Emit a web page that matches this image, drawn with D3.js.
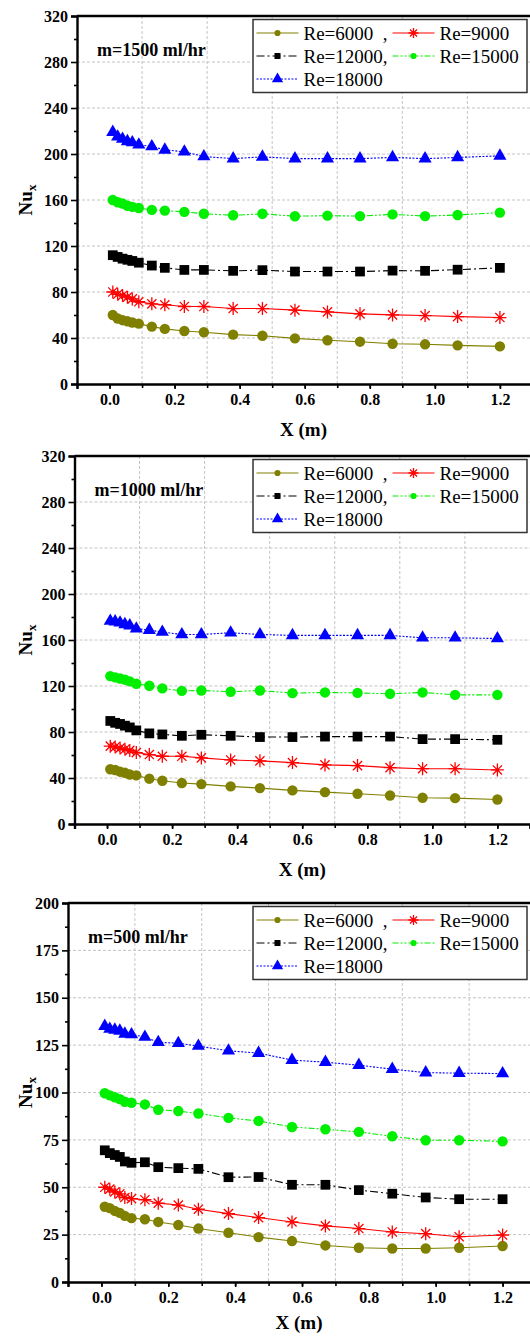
<!DOCTYPE html>
<html>
<head>
<meta charset="utf-8">
<script src="https://cdn.jsdelivr.net/npm/d3@7"></script>
<style>
  body { margin: 0; background: #fff; }
  svg { display: block; }
  svg text { font-family: "Liberation Serif", "Times New Roman", serif !important; }
</style>
</head>
<body>
<svg id="chart" width="530" height="1336"></svg>
<script>
// x positions along the tube (m)
const xPos = [0.01, 0.025, 0.04, 0.055, 0.07, 0.09, 0.13, 0.17, 0.23, 0.29, 0.38, 0.47, 0.57, 0.67, 0.77, 0.87, 0.97, 1.07, 1.2];

const reLabels = ["Re=6000  ,", "Re=9000", "Re=12000,", "Re=15000", "Re=18000"];

// m = 1500 ml/hr
const nu1500_re6000  = [60, 57, 55.5, 54.5, 53.5, 52.5, 49.9, 47.9, 46.1, 45, 42.9, 42, 39.7, 38, 36.8, 35, 34.5, 33.6, 32.7];
const nu1500_re9000  = [80, 78, 77, 75.5, 74, 71.5, 69.7, 68.9, 67.4, 67.4, 65.6, 65.6, 64.2, 62.7, 61, 60.1, 59.5, 58.6, 57.8];
const nu1500_re12000 = [112, 110.5, 109, 108, 107, 105.5, 103, 101, 99.2, 99.2, 98.4, 99, 97.8, 97.8, 97.8, 98.6, 98.4, 99.4, 101];
const nu1500_re15000 = [160, 158, 157, 155, 154, 153, 151.4, 150.8, 149.7, 148, 146.7, 148, 145.9, 146.4, 146, 147.5, 146, 147, 149];
const nu1500_re18000 = [219, 215, 213, 211, 210, 208, 206.5, 203.6, 201.9, 197.8, 196, 197.5, 196, 196, 196, 197, 196, 197, 198.4];

// m = 1000 ml/hr
const nu1000_re6000  = [47.6, 47, 45.5, 44.5, 43, 42.3, 39.4, 37.6, 35.6, 34.7, 32.7, 31.2, 29.2, 27.7, 26.3, 24.8, 22.8, 22.5, 21.3];
const nu1000_re9000  = [67.7, 67, 66, 65, 64, 62.1, 60.4, 58.9, 58.9, 57.5, 55.7, 54.9, 53.4, 51.4, 50.8, 49, 48.1, 48.1, 47];
const nu1000_re12000 = [89.6, 88, 87, 85.5, 84, 81.4, 78.8, 77.9, 76.7, 77.6, 76.7, 75.6, 75.6, 76, 76, 76, 73.8, 73.8, 73.2];
const nu1000_re15000 = [128.6, 127.5, 126.5, 125.5, 124, 122, 120.2, 117.9, 115.8, 116.1, 115, 116.1, 113.8, 114.4, 114, 113.2, 114.4, 112.3, 112.3];
const nu1000_re18000 = [176.5, 176, 175, 173.6, 172.5, 169.8, 168.6, 166.9, 164.8, 164.8, 166.3, 164.8, 164, 164, 164, 164, 161.9, 161.9, 161.3];

// m = 500 ml/hr
const nu500_re6000  = [39.7, 39, 37.5, 36.5, 34.9, 33.7, 33.1, 31.7, 30.1, 28.2, 26, 23.7, 21.6, 19.3, 18.1, 17.7, 17.7, 18.1, 19];
const nu500_re9000  = [50, 49, 47.5, 46.5, 44.6, 44, 43.4, 41.6, 40.6, 38.4, 36.1, 34, 31.7, 29.6, 28.2, 26.4, 25.5, 23.9, 24.8];
const nu500_re12000 = [69.5, 68, 67, 66, 63.6, 62.9, 63.2, 60.6, 60.1, 59.7, 55.3, 55.4, 51.3, 51.3, 48.5, 46.6, 44.6, 43.7, 43.7];
const nu500_re15000 = [99.6, 98.5, 97.5, 96.5, 95.1, 94.6, 93.7, 90.9, 90.2, 88.9, 86.6, 85, 81.8, 80.6, 79.2, 76.9, 74.8, 74.8, 74.2];
const nu500_re18000 = [135, 133.5, 133, 132.5, 130.9, 130.6, 129.3, 126.5, 126, 124.5, 122, 120.8, 117.1, 116, 114.4, 112.3, 110.5, 110.2, 110];

const xTickLabels = [0, 0.2, 0.4, 0.6, 0.8, 1.0, 1.2];
const yTicks320 = [0, 40, 80, 120, 160, 200, 240, 280, 320];
const yTicks200 = [0, 25, 50, 75, 100, 125, 150, 175, 200];

// series styles
const styles = [
  { color: "#808000", dash: null,            marker: "circle" },
  { color: "#ff0000", dash: null,            marker: "star" },
  { color: "#000000", dash: "8,3,2,3",       marker: "square" },
  { color: "#00ee00", dash: "6,2,2,2,2,2",   marker: "circle" },
  { color: "#0000ff", dash: "2,1.5",         marker: "triangle" }
];

const panels = [
  { title: "m=1500 ml/hr", left: 77, top: 16, bottom: 384, pxPerUnit: 325.3, yMax: 320, yTicks: yTicks320,
    series: [nu1500_re6000, nu1500_re9000, nu1500_re12000, nu1500_re15000, nu1500_re18000] },
  { title: "m=1000 ml/hr", left: 74.5, top: 456, bottom: 824, pxPerUnit: 325.3, yMax: 320, yTicks: yTicks320,
    series: [nu1000_re6000, nu1000_re9000, nu1000_re12000, nu1000_re15000, nu1000_re18000] },
  { title: "m=500 ml/hr", left: 68, top: 903, bottom: 1282, pxPerUnit: 334.3, yMax: 200, yTicks: yTicks200,
    series: [nu500_re6000, nu500_re9000, nu500_re12000, nu500_re15000, nu500_re18000] }
];

const SERIF = "'Liberation Serif', 'Times New Roman', serif";
const svg = d3.select("#chart");

function starPath(r) {
  const d = r * Math.SQRT1_2;
  return `M${-r},0L${r},0M0,${-r}L0,${r}M${-d},${-d}L${d},${d}M${-d},${d}L${d},${-d}`;
}

function drawMarker(g, type, color, big) {
  if (type === "star") {
    g.append("path").attr("d", starPath(big ? 6.5 : 5))
      .attr("stroke", color).attr("stroke-width", 1.3).attr("fill", "none");
    return;
  }
  const sym = { circle: d3.symbolCircle, square: d3.symbolSquare, triangle: d3.symbolTriangle }[type];
  const size = big ? { circle: 85, square: 95, triangle: 75 }[type] : { circle: 30, square: 36, triangle: 55 }[type];
  g.append("path").attr("d", d3.symbol(sym, size)()).attr("fill", color);
}

panels.forEach((p, pi) => {
  const right = p.left + 1.4 * p.pxPerUnit;
  const x = d3.scaleLinear().domain([-0.1, 1.3]).range([p.left, right]);
  const y = d3.scaleLinear().domain([0, p.yMax]).range([p.bottom, p.top]);
  const g = svg.append("g");

  // grid
  const gridX = d3.range(0.1, 1.2, 0.2);
  g.selectAll(null).data(gridX).enter().append("line")
    .attr("x1", d => x(d)).attr("x2", d => x(d))
    .attr("y1", p.top).attr("y2", p.bottom)
    .attr("stroke", "#c4c4c4").attr("stroke-dasharray", "3,2").attr("stroke-width", 1);
  g.selectAll(null).data(p.yTicks.slice(1, -1)).enter().append("line")
    .attr("x1", p.left).attr("x2", right)
    .attr("y1", d => y(d)).attr("y2", d => y(d))
    .attr("stroke", "#c4c4c4").attr("stroke-dasharray", "3,2").attr("stroke-width", 1);

  // y axis
  const step = p.yTicks[1] - p.yTicks[0];
  const yMinor = d3.range(step / 2, p.yMax, step);
  g.append("g").attr("transform", `translate(${p.left},0)`)
    .call(d3.axisLeft(y).tickValues(p.yTicks).tickSize(6).tickPadding(3).tickFormat(d3.format("d")));
  g.append("g").attr("transform", `translate(${p.left},0)`)
    .call(d3.axisLeft(y).tickValues(yMinor).tickSize(3).tickFormat(""))
    .select(".domain").remove();

  // x axis
  const xAll = d3.range(-1, 14).map(i => i / 10);
  g.append("g").attr("transform", `translate(0,${p.bottom})`)
    .call(d3.axisBottom(x).tickValues(xTickLabels).tickSize(5).tickPadding(5).tickFormat(d3.format(".1f")));
  g.append("g").attr("transform", `translate(0,${p.bottom})`)
    .call(d3.axisBottom(x).tickValues(xAll).tickSize(4).tickFormat(""))
    .select(".domain").remove();

  g.selectAll("g").attr("font-family", SERIF);
  g.selectAll(".domain").attr("stroke-width", 2.4).attr("stroke", "#000");
  g.selectAll(".tick line").attr("stroke-width", 1.6);
  g.selectAll(".tick text").style("font-family", SERIF).attr("font-weight", "bold")
    .attr("font-size", 16).attr("fill", "#000");

  // top frame
  g.append("line").attr("x1", p.left).attr("x2", right).attr("y1", p.top).attr("y2", p.top)
    .attr("stroke", "#000").attr("stroke-width", 2.4);

  // series
  const line = d3.line().x(d => x(d[0])).y(d => y(d[1]));
  p.series.forEach((vals, si) => {
    const st = styles[si];
    const pts = xPos.map((xv, i) => [xv, vals[i]]);
    g.append("path").datum(pts).attr("d", line)
      .attr("fill", "none").attr("stroke", st.color).attr("stroke-width", 1.1)
      .attr("stroke-dasharray", st.dash);
    pts.forEach(pt => {
      const mg = g.append("g").attr("transform", `translate(${x(pt[0])},${y(pt[1])})`);
      drawMarker(mg, st.marker, st.color, true);
    });
  });

  // annotation
  g.append("text").attr("x", p.left + 20).attr("y", p.top + 40)
    .style("font-family", SERIF).attr("font-weight", "bold").attr("font-size", 18).text(p.title);

  // axis titles
  const yl = g.append("text")
    .attr("transform", `translate(32,${(p.top + p.bottom) / 2}) rotate(-90)`)
    .style("font-family", SERIF)
    .attr("text-anchor", "middle").attr("font-weight", "bold").attr("font-size", 19);
  yl.append("tspan").text("Nu");
  yl.append("tspan").attr("font-size", 13).attr("dy", 4).text("x");

  const xlY = pi === 2 ? p.bottom + 47 : p.bottom + 52;
  g.append("text").attr("x", (p.left + 530) / 2).attr("y", xlY)
    .style("font-family", SERIF)
    .attr("text-anchor", "middle").attr("font-weight", "bold").attr("font-size", 19).text("X (m)");

  // legend
  const lx = 253, ly = p.top + 3.5;
  const lg = g.append("g").attr("transform", `translate(${lx},${ly})`);
  lg.append("rect").attr("x", 0).attr("y", 0).attr("width", 274).attr("height", 73)
    .attr("fill", "#fff").attr("stroke", "#333").attr("stroke-width", 1.5);
  reLabels.forEach((lab, i) => {
    const col = i % 2, row = Math.floor(i / 2);
    const ox = col === 0 ? 3.5 : 139.5;
    const oy = 13.5 + row * 23;
    const st = styles[i];
    lg.append("line").attr("x1", ox).attr("x2", ox + 42).attr("y1", oy).attr("y2", oy)
      .attr("stroke", st.color).attr("stroke-width", 1.1).attr("stroke-dasharray", st.dash);
    const mg = lg.append("g").attr("transform", `translate(${ox + 21},${oy})`);
    drawMarker(mg, st.marker, st.color, false);
    lg.append("text").attr("x", ox + 47).attr("y", oy + 6.5)
      .style("font-family", SERIF)
      .attr("font-size", 19).style("white-space", "pre").text(lab);
  });
});
</script>
</body>
</html>
